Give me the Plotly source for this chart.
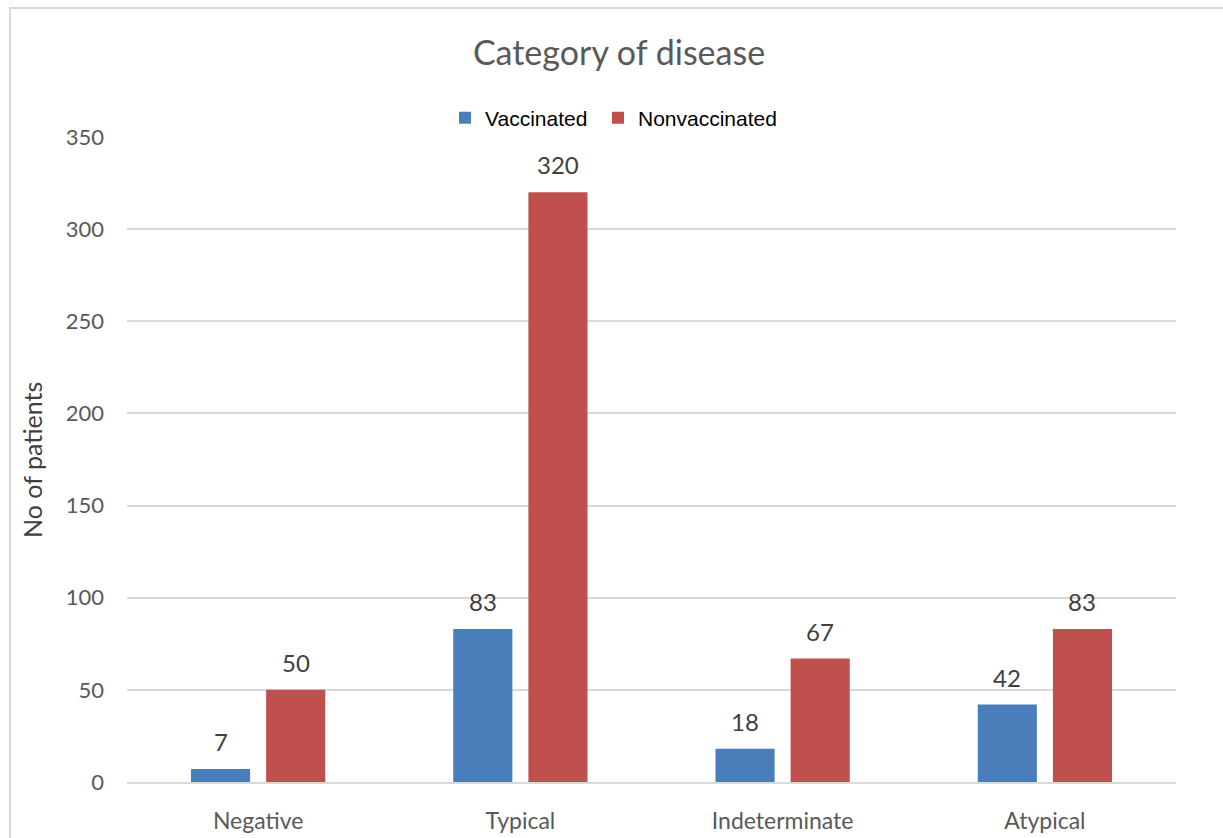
import plotly.graph_objects as go

categories = ["Negative", "Typical", "Indeterminate", "Atypical"]
vaccinated = [7, 83, 18, 42]
nonvaccinated = [50, 320, 67, 83]
y_ticks = [0, 50, 100, 150, 200, 250, 300, 350]

BLUE = "#4A7EBB"
RED = "#C0504D"
TEXT_GRAY = "#595959"
LABEL_DARK = "#404040"
FONT = "Lato"

W, H = 1223, 838
ML, MR, MT, MB = 127, 47, 137, 56
plot_w = W - ML - MR
plot_h = H - MT - MB

fig = go.Figure()
fig.add_trace(go.Bar(name="Vaccinated", x=categories, y=vaccinated, legend="legend",
                     marker=dict(color=BLUE, line=dict(width=0))))
fig.add_trace(go.Bar(name="Nonvaccinated", x=categories, y=nonvaccinated, legend="legend2",
                     marker=dict(color=RED, line=dict(width=0))))

# value labels above each bar, offset to the bar's slot within the group
slot = plot_w / len(categories) * (1 - 0.427) / 2
for series, sign in ((vaccinated, -1), (nonvaccinated, 1)):
    for cat, v in zip(categories, series):
        fig.add_annotation(x=cat, y=v, text=str(v), showarrow=False,
                           xshift=sign * slot / 2, yshift=11, yanchor="bottom",
                           font=dict(family=FONT, size=24, color=LABEL_DARK))

# y-axis title
fig.add_annotation(text="No of patients", xref="paper", yref="paper",
                   x=(32 - ML) / plot_w, y=(H - MB - 460) / plot_h,
                   textangle=-90, showarrow=False, xanchor="center", yanchor="middle",
                   font=dict(family=FONT, size=25, color=LABEL_DARK))

# chart frame
fig.add_shape(type="rect", xref="paper", yref="paper",
              x0=(10 - ML) / plot_w, x1=(W + 20 - ML) / plot_w,
              y0=(H - MB - (H + 20)) / plot_h, y1=(H - MB - 8) / plot_h,
              line=dict(color="#D9D9D9", width=2), fillcolor="rgba(0,0,0,0)", layer="below")

legend_style = dict(orientation="h", xanchor="left", yanchor="middle",
                    y=(H - MB - 118) / plot_h, itemwidth=30,
                    font=dict(family="Liberation Sans, Arial", size=21, color="#000000"),
                    bgcolor="rgba(0,0,0,0)")

fig.update_layout(
    width=W, height=H,
    margin=dict(l=ML, r=MR, t=MT, b=MB, autoexpand=False),
    paper_bgcolor="white", plot_bgcolor="white",
    barmode="group", bargap=0.427, bargroupgap=0.213,
    title=dict(text="Category of disease", x=619 / W, xanchor="center",
               y=1 - 53 / H, yanchor="middle", yref="container",
               font=dict(family=FONT, size=34, color=TEXT_GRAY)),
    legend=dict(x=(445 - ML) / plot_w, **legend_style),
    legend2=dict(x=(598 - ML) / plot_w, **legend_style),
    showlegend=True,
)
fig.update_yaxes(range=[0, 350], tickvals=y_ticks, showgrid=True, gridcolor="#D9D9D9",
                 gridwidth=1.5, zeroline=False, showline=False, ticks="",
                 ticklabelstandoff=22, automargin=False,
                 tickfont=dict(family=FONT, size=22, color=TEXT_GRAY))
fig.update_xaxes(showline=True, linecolor="#D9D9D9", linewidth=1.5, ticks="",
                 ticklabelstandoff=18, automargin=False,
                 tickfont=dict(family=FONT, size=23, color=TEXT_GRAY))

fig.write_html("out.html")
